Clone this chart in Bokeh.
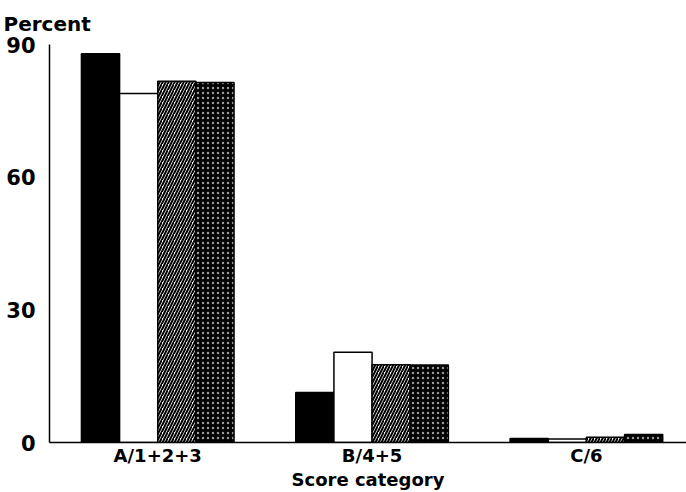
from bokeh.plotting import figure
from bokeh.models import ColumnDataSource, FixedTicker, Title
from bokeh.embed import file_html
from bokeh.resources import INLINE

categories = ["A/1+2+3", "B/4+5", "C/6"]
series1 = [87.9, 11.3, 0.9]   # black
series2 = [78.9, 20.4, 0.8]   # white
series3 = [81.7, 17.6, 1.2]   # diagonal hatch
series4 = [81.4, 17.5, 1.8]   # dotted
y_ticks = [0, 30, 60, 90]

FONT = "DejaVu Sans"
centers = [1, 2, 3]
bw = 0.178
offsets = [-1.5 * bw, -0.5 * bw, 0.5 * bw, 1.5 * bw]

p = figure(width=686, height=492, output_backend="svg", toolbar_location=None,
           x_range=(0.495, 3.467), y_range=(0, 90),
           min_border_left=49, min_border_right=0, min_border_top=44, min_border_bottom=49)
p.outline_line_color = None
p.xgrid.visible = False
p.ygrid.visible = False
p.background_fill_color = "white"

styles = [
    dict(fill_color="black", line_color="black"),
    dict(fill_color="white", line_color="black"),
    dict(fill_color="white", line_color="black", hatch_pattern="right_diagonal_line",
         hatch_color="black", hatch_scale=6, hatch_weight=2),
    dict(fill_color="black", line_color="black", hatch_pattern="dot",
         hatch_color="white", hatch_scale=5, hatch_weight=1, hatch_alpha=0.6),
]
for vals, off, st in zip([series1, series2, series3, series4], offsets, styles):
    src = ColumnDataSource(dict(x=[c + off for c in centers], top=vals))
    p.vbar(x="x", top="top", bottom=0, width=bw, source=src, line_width=1.5, **st)

# axes
p.xaxis.ticker = FixedTicker(ticks=centers)
p.xaxis.major_label_overrides = {c: lab for c, lab in zip(centers, categories)}
p.xaxis.axis_label = "Score category"
p.xaxis.major_tick_line_color = None
p.xaxis.major_tick_out = 0
p.xaxis.major_tick_in = 0
p.xaxis.minor_tick_line_color = None
p.xaxis.minor_tick_out = 0
p.xaxis.axis_line_width = 1.5
p.xaxis.axis_line_color = "black"
p.xaxis.major_label_text_font = FONT
p.xaxis.major_label_text_font_style = "bold"
p.xaxis.major_label_text_font_size = "18px"
p.xaxis.major_label_text_color = "black"
p.xaxis.major_label_standoff = 2
p.xaxis.axis_label_text_font = FONT
p.xaxis.axis_label_text_font_style = "bold"
p.xaxis.axis_label_text_font_size = "18px"
p.xaxis.axis_label_text_color = "black"
p.xaxis.axis_label_standoff = 0

p.yaxis.ticker = FixedTicker(ticks=y_ticks)
p.yaxis.major_tick_line_color = None
p.yaxis.major_tick_out = 0
p.yaxis.major_tick_in = 0
p.yaxis.minor_tick_line_color = None
p.yaxis.minor_tick_out = 0
p.yaxis.axis_line_width = 1.5
p.yaxis.axis_line_color = "black"
p.yaxis.major_label_text_font = FONT
p.yaxis.major_label_text_font_style = "bold"
p.yaxis.major_label_text_font_size = "21px"
p.yaxis.major_label_text_color = "black"
p.yaxis.major_label_standoff = 14

p.add_layout(Title(text="Percent", align="left", offset=-46, standoff=17,
                   text_font=FONT, text_font_style="bold", text_font_size="20px",
                   text_color="black"), "above")

open("out.html", "w").write(file_html(p, INLINE))
